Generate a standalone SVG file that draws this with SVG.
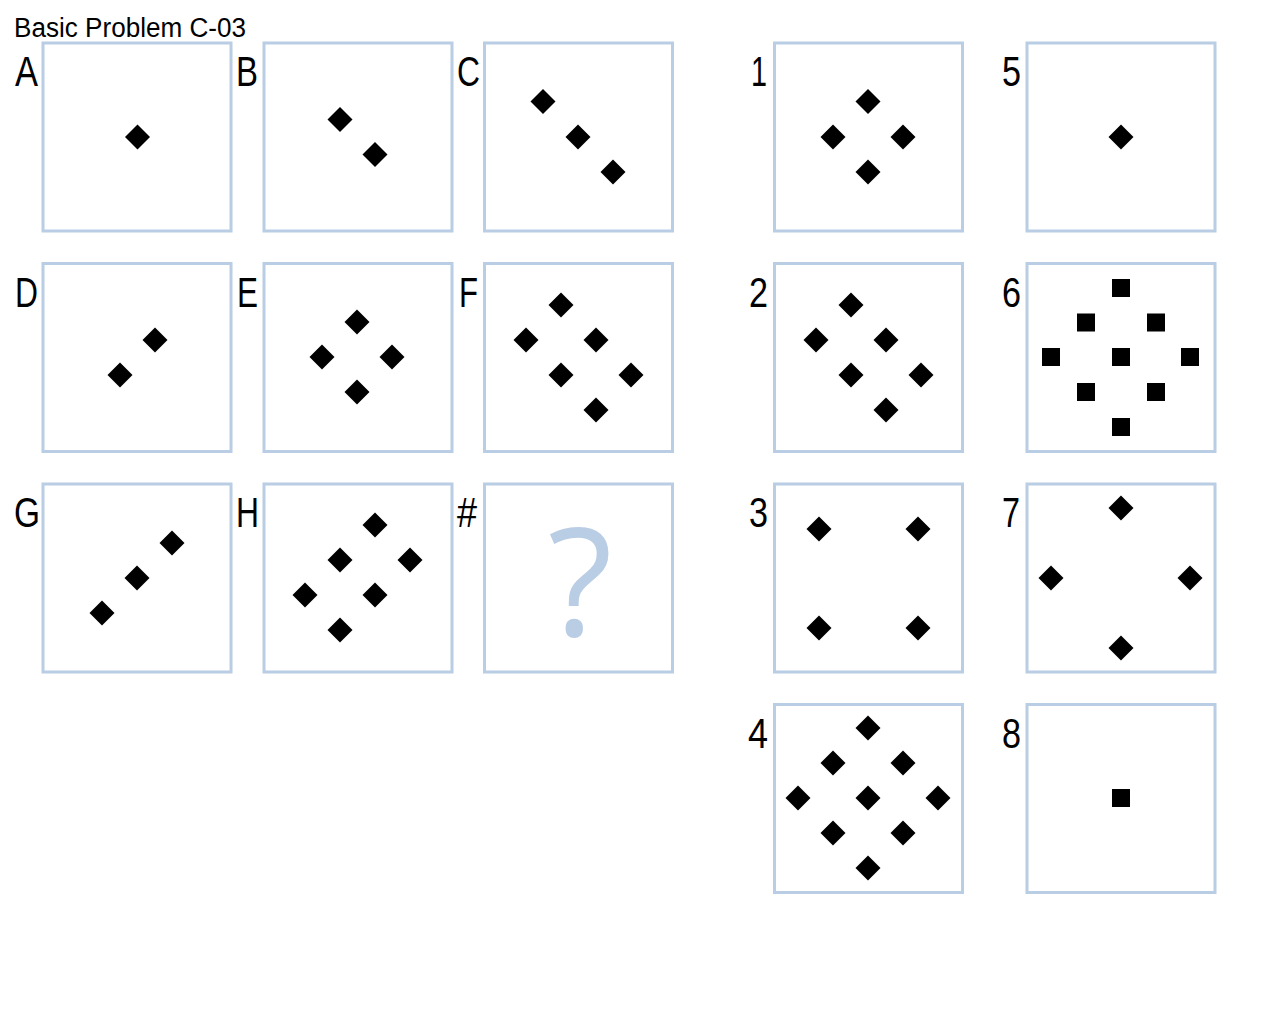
<svg xmlns="http://www.w3.org/2000/svg" width="1280" height="1024" viewBox="0 0 1280 1024">
<defs>
<style>
.box{fill:#fff;stroke:#b9cde4;stroke-width:3}
.lbl{font-family:"Liberation Sans",Arial,sans-serif;font-size:42px;fill:#000}
.ttl{font-family:"Liberation Sans",Arial,sans-serif;font-size:27px;fill:#000}
.q{font-family:"Open Sans","DejaVu Sans",sans-serif;font-size:150px;fill:#b9cde4}
</style>
<path id="d" d="M0,-12.5 L12.5,0 L0,12.5 L-12.5,0 Z" fill="#000"/>
<rect id="s" x="-9" y="-9" width="18" height="18" fill="#000"/>
</defs>
<rect width="1280" height="1024" fill="#fff"/>
<text class="ttl" x="14" y="37" textLength="232" lengthAdjust="spacingAndGlyphs">Basic Problem C-03</text>

<g id="nodeA"><rect class="box" x="43" y="43" width="188" height="188"/><text class="lbl" x="15" y="86" textLength="23" lengthAdjust="spacingAndGlyphs">A</text>
<use href="#d" x="137.5" y="137"/></g>
<g id="nodeB"><rect class="box" x="264" y="43" width="188" height="188"/><text class="lbl" x="236" y="86" textLength="22" lengthAdjust="spacingAndGlyphs">B</text>
<use href="#d" x="340" y="119.5"/><use href="#d" x="375" y="154.5"/></g>
<g id="nodeC"><rect class="box" x="484.5" y="43" width="188" height="188"/><text class="lbl" x="457" y="86" textLength="23" lengthAdjust="spacingAndGlyphs">C</text>
<use href="#d" x="543" y="101.5"/><use href="#d" x="578" y="137"/><use href="#d" x="613" y="172"/></g>

<g id="nodeD"><rect class="box" x="43" y="263.5" width="188" height="188"/><text class="lbl" x="15" y="306.5" textLength="23" lengthAdjust="spacingAndGlyphs">D</text>
<use href="#d" x="120" y="375"/><use href="#d" x="155" y="340"/></g>
<g id="nodeE"><rect class="box" x="264" y="263.5" width="188" height="188"/><text class="lbl" x="237" y="306.5" textLength="21" lengthAdjust="spacingAndGlyphs">E</text>
<use href="#d" x="357" y="322"/><use href="#d" x="322" y="357"/><use href="#d" x="392" y="357"/><use href="#d" x="357" y="392"/></g>
<g id="nodeF"><rect class="box" x="484.5" y="263.5" width="188" height="188"/><text class="lbl" x="459" y="306.5" textLength="19" lengthAdjust="spacingAndGlyphs">F</text>
<use href="#d" x="561" y="305"/><use href="#d" x="526" y="340"/><use href="#d" x="596" y="340"/><use href="#d" x="561" y="375"/><use href="#d" x="631" y="375"/><use href="#d" x="596" y="410"/></g>

<g id="nodeG"><rect class="box" x="43" y="484" width="188" height="188"/><text class="lbl" x="14" y="527" textLength="26" lengthAdjust="spacingAndGlyphs">G</text>
<use href="#d" x="102" y="613"/><use href="#d" x="137" y="578"/><use href="#d" x="172" y="543"/></g>
<g id="nodeH"><rect class="box" x="264" y="484" width="188" height="188"/><text class="lbl" x="236" y="527" textLength="23" lengthAdjust="spacingAndGlyphs">H</text>
<use href="#d" x="375" y="525"/><use href="#d" x="340" y="560"/><use href="#d" x="410" y="560"/><use href="#d" x="305" y="595"/><use href="#d" x="375" y="595"/><use href="#d" x="340" y="630"/></g>
<g id="nodeQ"><rect class="box" x="484.5" y="484" width="188" height="188"/><text class="lbl" x="457" y="527" textLength="20" lengthAdjust="spacingAndGlyphs">#</text>
<text class="q" x="580" y="636" text-anchor="middle">?</text></g>

<g id="node1"><rect class="box" x="774.5" y="43" width="188" height="188"/><text class="lbl" x="751" y="86" textLength="16" lengthAdjust="spacingAndGlyphs">1</text>
<use href="#d" x="868" y="101.5"/><use href="#d" x="833" y="137"/><use href="#d" x="903" y="137"/><use href="#d" x="868" y="172"/></g>
<g id="node2"><rect class="box" x="774.5" y="263.5" width="188" height="188"/><text class="lbl" x="749" y="306.5" textLength="19" lengthAdjust="spacingAndGlyphs">2</text>
<use href="#d" x="851" y="305"/><use href="#d" x="816" y="340"/><use href="#d" x="886" y="340"/><use href="#d" x="851" y="375"/><use href="#d" x="921" y="375"/><use href="#d" x="886" y="410"/></g>
<g id="node3"><rect class="box" x="774.5" y="484" width="188" height="188"/><text class="lbl" x="749" y="527" textLength="19" lengthAdjust="spacingAndGlyphs">3</text>
<use href="#d" x="819" y="529"/><use href="#d" x="918" y="529"/><use href="#d" x="819" y="628"/><use href="#d" x="918" y="628"/></g>
<g id="node4"><rect class="box" x="774.5" y="704.5" width="188" height="188"/><text class="lbl" x="748" y="747.5" textLength="20" lengthAdjust="spacingAndGlyphs">4</text>
<use href="#d" x="868" y="728"/><use href="#d" x="833" y="763"/><use href="#d" x="903" y="763"/><use href="#d" x="798" y="798"/><use href="#d" x="868" y="798"/><use href="#d" x="938" y="798"/><use href="#d" x="833" y="833"/><use href="#d" x="903" y="833"/><use href="#d" x="868" y="868"/></g>

<g id="node5"><rect class="box" x="1027" y="43" width="188" height="188"/><text class="lbl" x="1002" y="86" textLength="19" lengthAdjust="spacingAndGlyphs">5</text>
<use href="#d" x="1121" y="137"/></g>
<g id="node6"><rect class="box" x="1027" y="263.5" width="188" height="188"/><text class="lbl" x="1002" y="306.5" textLength="19" lengthAdjust="spacingAndGlyphs">6</text>
<use href="#s" x="1121" y="288"/><use href="#s" x="1086" y="322.5"/><use href="#s" x="1156" y="322.5"/><use href="#s" x="1051" y="357"/><use href="#s" x="1121" y="357"/><use href="#s" x="1190" y="357"/><use href="#s" x="1086" y="392"/><use href="#s" x="1156" y="392"/><use href="#s" x="1121" y="427"/></g>
<g id="node7"><rect class="box" x="1027" y="484" width="188" height="188"/><text class="lbl" x="1002" y="527" textLength="18" lengthAdjust="spacingAndGlyphs">7</text>
<use href="#d" x="1121" y="508"/><use href="#d" x="1051" y="578"/><use href="#d" x="1190" y="578"/><use href="#d" x="1121" y="648"/></g>
<g id="node8"><rect class="box" x="1027" y="704.5" width="188" height="188"/><text class="lbl" x="1002" y="747.5" textLength="19" lengthAdjust="spacingAndGlyphs">8</text>
<use href="#s" x="1121" y="798"/></g>
<g id="connectors"/>
</svg>
